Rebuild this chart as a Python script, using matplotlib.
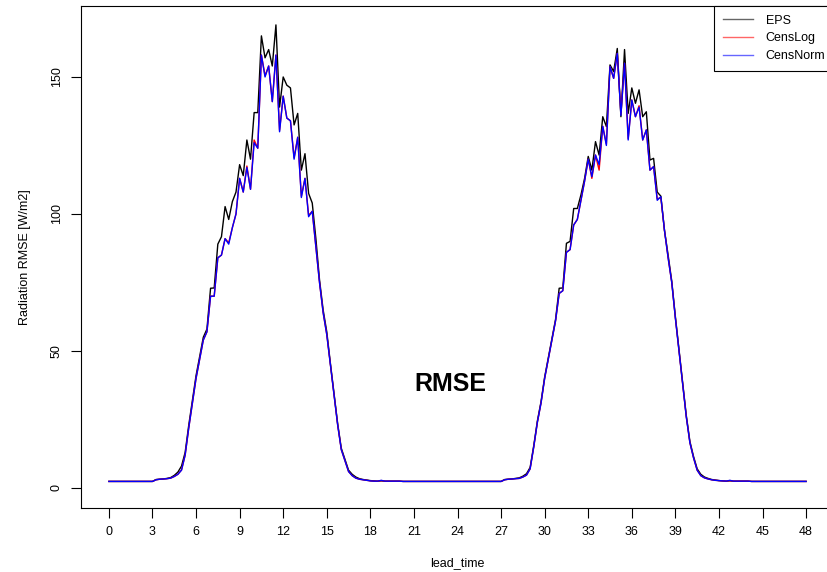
import numpy as np
import matplotlib
matplotlib.use("Agg")
import matplotlib.pyplot as plt

plt.rcParams['font.family'] = ['Liberation Sans', 'DejaVu Sans']

# lead time in hours, quarter-hour steps
lead_time = np.arange(0, 48.25, 0.25)

eps = [
    2.4, 2.4, 2.4, 2.4, 2.4, 2.4, 2.4, 2.4, 2.4, 2.4, 2.4, 2.4, 2.4,
    3.1, 3.2, 3.3, 3.5, 3.8, 4.6, 5.8, 8.0, 13.0, 23.0, 32.0, 41.0, 48.0,
    55.0, 58.0, 72.9, 73.0, 89.0, 91.7, 102.7, 98.0, 104.5, 108.0, 118.0, 114.0,
    127.0, 120.0, 137.0, 137.0, 165.0, 157.0, 160.0, 154.0, 169.0, 139.0, 150.0,
    147.0, 146.0, 132.5, 136.7, 116.0, 122.0, 107.5, 104.0, 91.0, 76.0, 65.0,
    57.0, 45.5, 34.5, 23.5, 14.5, 10.5, 6.5, 5.0, 4.0, 3.4, 3.1, 2.9, 2.7,
    2.6, 2.5, 2.6, 2.5, 2.5, 2.5, 2.5, 2.5, 2.4, 2.4, 2.4, 2.4, 2.4, 2.4,
    2.4, 2.4, 2.4, 2.4, 2.4, 2.4, 2.4, 2.4, 2.4,
    2.4, 2.4, 2.4, 2.4, 2.4, 2.4, 2.4, 2.4, 2.4, 2.4, 2.4, 2.4, 2.4,
    3.1, 3.2, 3.3, 3.5, 3.7, 4.3, 5.2, 7.5, 15.5, 24.5, 31.5, 40.5, 47.5,
    54.5, 61.5, 72.9, 73.0, 89.3, 90.0, 102.0, 102.0, 107.0, 113.0, 121.0, 116.0,
    126.4, 121.5, 135.5, 131.9, 154.4, 152.0, 160.4, 135.5, 160.0, 136.7, 146.0,
    140.4, 145.3, 135.5, 137.3, 119.7, 120.3, 108.0, 106.5, 94.0, 85.0, 75.5,
    62.5, 50.5, 38.5, 26.5, 17.0, 11.5, 7.0, 5.0, 4.0, 3.5, 3.1, 2.9, 2.7,
    2.6, 2.5, 2.6, 2.5, 2.5, 2.5, 2.5, 2.5, 2.4, 2.4, 2.4, 2.4, 2.4, 2.4,
    2.4, 2.4, 2.4, 2.4, 2.4, 2.4, 2.4, 2.4, 2.4, 2.4,
]

cens_log = [
    2.4, 2.4, 2.4, 2.4, 2.4, 2.4, 2.4, 2.4, 2.4, 2.4, 2.4, 2.4, 2.4,
    3.0, 3.2, 3.3, 3.4, 3.6, 4.2, 5.0, 6.6, 12.0, 22.0, 31.0, 40.0, 47.0,
    54.0, 57.0, 70.0, 70.0, 84.0, 85.0, 91.0, 89.5, 95.0, 100.0, 113.0, 108.0,
    117.5, 109.0, 127.0, 124.0, 158.0, 150.5, 154.0, 141.0, 158.0, 130.5, 143.0,
    135.0, 134.0, 120.5, 128.0, 106.5, 113.0, 99.5, 101.0, 88.0, 75.0, 64.0,
    56.0, 45.0, 34.0, 23.0, 14.0, 10.0, 6.0, 4.5, 3.6, 3.2, 3.0, 2.8, 2.6,
    2.5, 2.5, 2.7, 2.5, 2.5, 2.5, 2.5, 2.5, 2.4, 2.4, 2.4, 2.4, 2.4, 2.4,
    2.4, 2.4, 2.4, 2.4, 2.4, 2.4, 2.4, 2.4, 2.4,
    2.4, 2.4, 2.4, 2.4, 2.4, 2.4, 2.4, 2.4, 2.4, 2.4, 2.4, 2.4, 2.4,
    3.0, 3.2, 3.3, 3.4, 3.5, 4.0, 4.7, 7.0, 15.0, 24.0, 31.0, 40.0, 47.0,
    54.0, 61.0, 71.0, 72.0, 86.0, 87.0, 96.0, 98.0, 105.0, 112.0, 120.0, 113.0,
    121.5, 116.0, 132.0, 125.5, 153.8, 149.5, 158.6, 136.5, 155.0, 127.5, 141.6,
    135.5, 139.5, 127.0, 130.7, 116.0, 117.3, 105.5, 106.0, 94.0, 84.0, 75.0,
    62.0, 50.0, 38.0, 26.0, 16.5, 11.0, 6.5, 4.5, 3.7, 3.3, 3.0, 2.8, 2.7,
    2.6, 2.5, 2.7, 2.5, 2.5, 2.5, 2.5, 2.5, 2.4, 2.4, 2.4, 2.4, 2.4, 2.4,
    2.4, 2.4, 2.4, 2.4, 2.4, 2.4, 2.4, 2.4, 2.4, 2.4,
]

cens_norm = [
    2.4, 2.4, 2.4, 2.4, 2.4, 2.4, 2.4, 2.4, 2.4, 2.4, 2.4, 2.4, 2.4,
    3.0, 3.2, 3.3, 3.4, 3.6, 4.2, 5.0, 6.5, 12.0, 22.0, 31.0, 40.0, 47.0,
    54.0, 57.0, 70.0, 70.0, 84.0, 85.0, 91.0, 89.0, 95.0, 100.0, 113.0, 108.0,
    117.0, 109.0, 126.0, 124.0, 158.0, 150.0, 154.0, 141.0, 158.0, 130.0, 143.0,
    135.0, 134.0, 120.0, 128.0, 106.0, 113.0, 99.0, 101.0, 88.0, 75.0, 64.0,
    56.0, 45.0, 34.0, 23.0, 14.0, 10.0, 6.0, 4.5, 3.6, 3.2, 3.0, 2.8, 2.6,
    2.5, 2.5, 2.8, 2.5, 2.5, 2.5, 2.5, 2.5, 2.4, 2.4, 2.4, 2.4, 2.4, 2.4,
    2.4, 2.4, 2.4, 2.4, 2.4, 2.4, 2.4, 2.4, 2.4,
    2.4, 2.4, 2.4, 2.4, 2.4, 2.4, 2.4, 2.4, 2.4, 2.4, 2.4, 2.4, 2.4,
    3.0, 3.2, 3.3, 3.4, 3.5, 4.0, 4.7, 7.0, 15.0, 24.0, 31.0, 40.0, 47.0,
    54.0, 61.0, 71.0, 72.0, 86.0, 87.0, 96.0, 98.0, 105.0, 112.0, 120.0, 113.6,
    121.5, 118.0, 132.0, 125.0, 153.8, 149.5, 158.6, 136.0, 155.0, 127.0, 141.6,
    135.5, 139.0, 127.0, 130.7, 116.0, 117.3, 105.0, 106.3, 94.0, 84.0, 75.0,
    62.0, 50.0, 38.0, 26.0, 16.5, 11.0, 6.5, 4.5, 3.7, 3.3, 3.0, 2.8, 2.7,
    2.6, 2.5, 2.8, 2.5, 2.5, 2.5, 2.5, 2.5, 2.4, 2.4, 2.4, 2.4, 2.4, 2.4,
    2.4, 2.4, 2.4, 2.4, 2.4, 2.4, 2.4, 2.4, 2.4, 2.4,
]

x_ticks = list(range(0, 49, 3))
y_ticks = [0, 50, 100, 150]

fig = plt.figure(figsize=(8.27, 5.72), dpi=100)
ax = fig.add_axes([81 / 827, 1 - 508 / 572, (834 - 81) / 827, (508 - 6) / 572])

ax.plot(lead_time, eps, color='black', lw=1.0, label='EPS')
ax.plot(lead_time, cens_log, color='red', lw=1.0, label='CensLog')
ax.plot(lead_time, cens_norm, color='blue', lw=1.0, label='CensNorm')

ax.set_xlim(-1.92, 49.92)
ax.set_ylim(-7.3, 175.9)
ax.set_xticks(x_ticks)
ax.set_yticks(y_ticks)
ax.tick_params(direction='out', length=7, width=0.8, labelsize=9, pad=6)
for lbl in ax.get_yticklabels():
    lbl.set_rotation(90)
    lbl.set_va('center')

for sp in ax.spines.values():
    sp.set_linewidth(0.8)

ax.set_xlabel('lead_time', fontsize=9, labelpad=14)
ax.set_ylabel('Radiation RMSE [W/m2]', fontsize=9, labelpad=14)

ax.text(23.5, 38, 'RMSE', fontsize=18, fontweight='bold', ha='center', va='center')

leg = ax.legend(loc='upper right', bbox_to_anchor=(1, 1), borderaxespad=0,
                fontsize=9, fancybox=False, framealpha=1, edgecolor='black',
                handlelength=2.4, handletextpad=1.0, labelspacing=0.45,
                borderpad=0.7)
leg.get_frame().set_linewidth(0.8)
for h in leg.get_lines():
    h.set_alpha(0.6)

fig.savefig('out.png', dpi=100)
